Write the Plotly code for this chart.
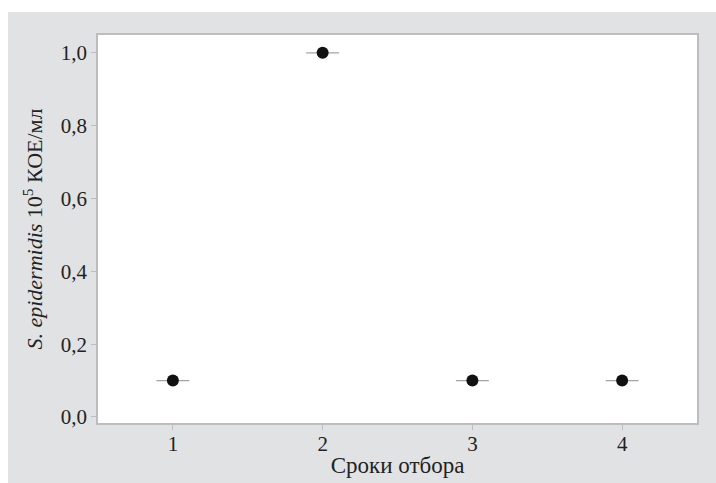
import plotly.graph_objects as go

# Sampling periods and S. epidermidis counts (10^5 CFU/ml)
periods = [1, 2, 3, 4]
counts = [0.1, 1.0, 0.1, 0.1]
spread = [0.11, 0.11, 0.11, 0.11]
y_ticks = [0.0, 0.2, 0.4, 0.6, 0.8, 1.0]
y_tick_labels = ["0,0", "0,2", "0,4", "0,6", "0,8", "1,0"]
x_ticks = [1, 2, 3, 4]

FONT = "Liberation Serif"
FRAME = "#bdbdbf"

fig = go.Figure(
    go.Scatter(
        x=periods,
        y=counts,
        mode="markers",
        marker=dict(color="#111111", size=12),
        error_x=dict(type="data", array=spread, color="#a4a4a4",
                     thickness=1.2, width=0),
        showlegend=False,
    )
)

fig.update_layout(
    width=716,
    height=483,
    margin=dict(l=98, r=19, t=35, b=60, autoexpand=False),
    paper_bgcolor="#e1e2e4",
    plot_bgcolor="white",
    font=dict(family=FONT, size=21, color="#222222"),
    shapes=[
        # white strips along the top and left edges
        dict(type="rect", xref="paper", yref="paper",
             x0=-0.2, x1=1.1, y0=(423 - 12) / 388, y1=1.2,
             fillcolor="white", line=dict(width=0), layer="above"),
        dict(type="rect", xref="paper", yref="paper",
             x0=-0.2, x1=(8 - 98) / 599, y0=-0.3, y1=1.2,
             fillcolor="white", line=dict(width=0), layer="above"),
    ],
)

fig.update_xaxes(
    range=[0.5, 4.5],
    tickvals=x_ticks,
    automargin=False,
    ticks="outside", ticklen=5, tickcolor=FRAME,
    ticklabelstandoff=-4,
    showline=True, mirror=True, linecolor=FRAME, linewidth=1.5,
    showgrid=False, zeroline=False,
    title=dict(text="Сроки отбора", standoff=2,
               font=dict(family=FONT, size=23)),
)

fig.update_yaxes(
    range=[-0.0165, 1.049],
    tickvals=y_ticks,
    ticktext=y_tick_labels,
    automargin=False,
    ticks="outside", ticklen=5, tickcolor=FRAME,
    showline=True, mirror=True, linecolor=FRAME, linewidth=1.5,
    showgrid=False, zeroline=False,
    title=dict(text="<i>S. epidermidis</i> 10<sup>5</sup> КОЕ/мл", standoff=12,
               font=dict(family=FONT, size=22)),
)

fig.write_html("out.html")
